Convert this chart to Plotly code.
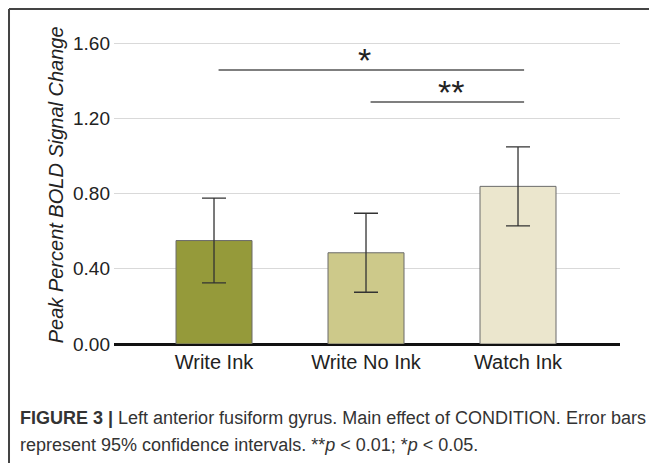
import plotly.graph_objects as go

conditions = ["Write Ink", "Write No Ink", "Watch Ink"]
peak_signal = [0.55, 0.485, 0.838]
ci95 = [0.225, 0.21, 0.21]
bar_colors = ["#959a3a", "#cdc98a", "#ebe6cd"]

# significance brackets: from / to category index, bar height, label and its x
sig_from = [0, 1]
sig_to = [2, 2]
sig_y = [1.457, 1.287]
sig_label = ["*", "**"]
sig_label_x = [0.99, 1.56]

FONT = "Liberation Sans, Arial, sans-serif"

fig = go.Figure()
fig.add_bar(
    x=list(range(len(conditions))),
    y=peak_signal,
    width=0.5,
    marker=dict(color=bar_colors, line=dict(color="#6b6b6b", width=1)),
    error_y=dict(type="data", array=ci95, color="#333333", thickness=1.3, width=12),
)

for x0, x1, y, label, lx in zip(sig_from, sig_to, sig_y, sig_label, sig_label_x):
    fig.add_shape(
        type="line", xref="x", yref="y",
        x0=x0 + 0.03, x1=x1 + 0.04, y0=y, y1=y,
        line=dict(color="#555555", width=1.5),
    )
    fig.add_annotation(
        x=lx, y=y - 0.058, xref="x", yref="y",
        xanchor="center", yanchor="bottom",
        text=label, showarrow=False,
        font=dict(family=FONT, size=34, color="#222222"),
    )

# outer frame (top and left edges only)
fig.add_shape(type="line", xref="paper", yref="paper",
              x0=-0.2075, x1=1.2, y0=1.034, y1=1.034,
              line=dict(color="#444444", width=2))
fig.add_shape(type="line", xref="paper", yref="paper",
              x0=-0.2075, x1=-0.2075, y0=1.034, y1=-0.5,
              line=dict(color="#444444", width=2))

fig.add_annotation(
    x=-0.1146, y=0.49, xref="paper", yref="paper", xanchor="center", yanchor="middle",
    text="<i>Peak Percent BOLD Signal Change</i>", textangle=-90,
    showarrow=False, font=dict(family=FONT, size=20, color="#222222"),
)

fig.add_annotation(
    x=-0.1898, y=-0.228, xref="paper", yref="paper", xanchor="left", yanchor="middle",
    text="<b>FIGURE 3 |</b> Left anterior fusiform gyrus. Main effect of CONDITION. Error bars",
    showarrow=False, align="left", font=dict(family=FONT, size=18, color="#333333"),
)
fig.add_annotation(
    x=-0.1898, y=-0.3116, xref="paper", yref="paper", xanchor="left", yanchor="middle",
    text="represent 95% confidence intervals. **<i>p</i> &lt; 0.01; *<i>p</i> &lt; 0.05.",
    showarrow=False, align="left", font=dict(family=FONT, size=18, color="#333333"),
)

fig.update_layout(
    width=657, height=463,
    margin=dict(l=106, r=45, t=12, b=127),
    paper_bgcolor="white", plot_bgcolor="white",
    showlegend=False,
    font=dict(family=FONT, color="#222222"),
    xaxis=dict(
        tickmode="array", tickvals=list(range(len(conditions))), ticktext=conditions,
        range=[-0.658, 2.671], showgrid=False, zeroline=False, showline=False,
        tickfont=dict(size=20, color="#222222"), ticks="", ticklabelstandoff=4,
    ),
    yaxis=dict(
        range=[0, 1.7225], dtick=0.4, tickformat=".2f",
        showgrid=True, gridcolor="#d9d9d9", gridwidth=1,
        zeroline=True, zerolinecolor="#111111", zerolinewidth=2.5,
        showline=False, ticks="", tickfont=dict(size=19, color="#222222"),
        ticklabelstandoff=3,
    ),
)

fig.write_html("out.html")
